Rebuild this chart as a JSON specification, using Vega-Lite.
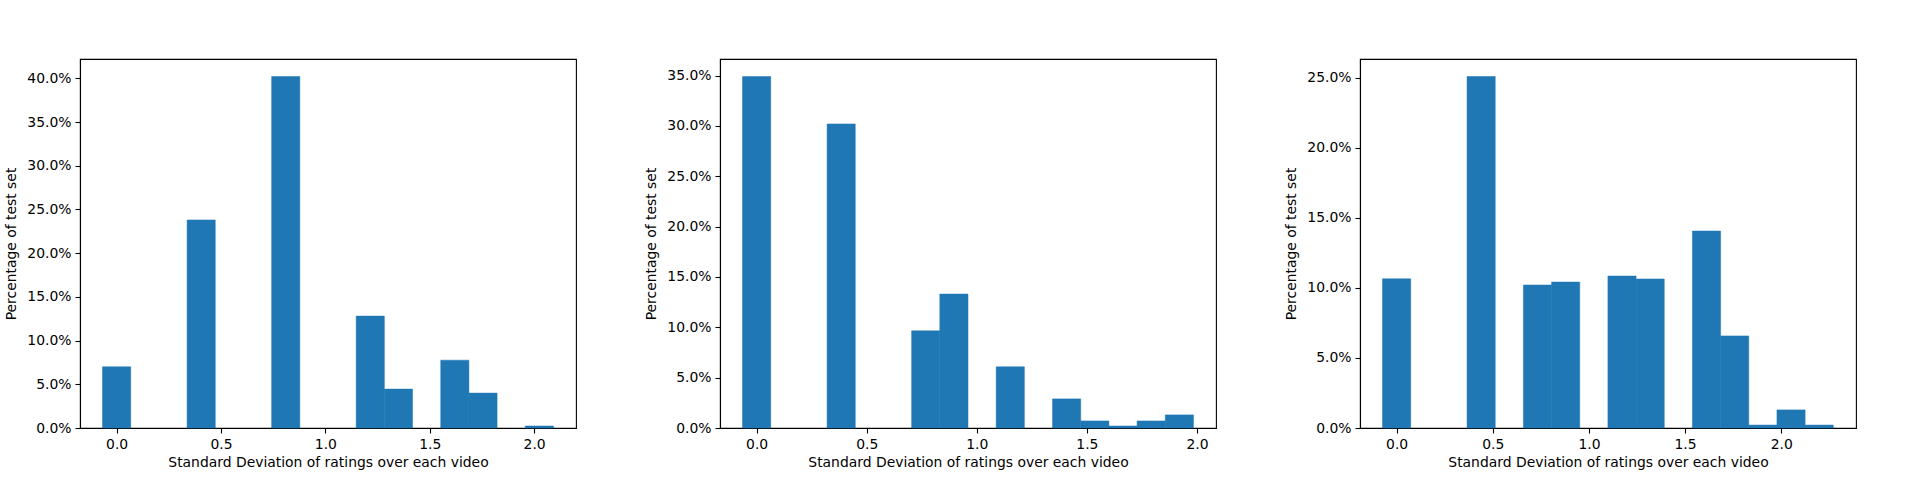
{
  "$schema": "https://vega.github.io/schema/vega-lite/v6.json",
  "background": "white",
  "padding": {"left": 4, "top": 58, "right": 5, "bottom": 5},
  "bounds": "flush",
  "spacing": 144,
  "datasets": {
    "p1": [
      {"bin_start": -0.0675, "bin_end": 0.0675, "pct": 0.0700},
      {"bin_start": 0.3375, "bin_end": 0.4725, "pct": 0.2380},
      {"bin_start": 0.7425, "bin_end": 0.8775, "pct": 0.4020},
      {"bin_start": 1.1475, "bin_end": 1.2825, "pct": 0.1280},
      {"bin_start": 1.2825, "bin_end": 1.4175, "pct": 0.0445},
      {"bin_start": 1.5525, "bin_end": 1.6875, "pct": 0.0776},
      {"bin_start": 1.6875, "bin_end": 1.8225, "pct": 0.0399},
      {"bin_start": 1.9575, "bin_end": 2.0925, "pct": 0.0023}
    ],
    "p2": [
      {"bin_start": -0.064, "bin_end": 0.064, "pct": 0.3490},
      {"bin_start": 0.320, "bin_end": 0.448, "pct": 0.3020},
      {"bin_start": 0.704, "bin_end": 0.832, "pct": 0.0965},
      {"bin_start": 0.832, "bin_end": 0.960, "pct": 0.1330},
      {"bin_start": 1.088, "bin_end": 1.216, "pct": 0.0608},
      {"bin_start": 1.344, "bin_end": 1.472, "pct": 0.0289},
      {"bin_start": 1.472, "bin_end": 1.600, "pct": 0.0070},
      {"bin_start": 1.600, "bin_end": 1.728, "pct": 0.0020},
      {"bin_start": 1.728, "bin_end": 1.856, "pct": 0.0070},
      {"bin_start": 1.856, "bin_end": 1.984, "pct": 0.0130}
    ],
    "p3": [
      {"bin_start": -0.07325, "bin_end": 0.07325, "pct": 0.1064},
      {"bin_start": 0.36625, "bin_end": 0.51275, "pct": 0.2507},
      {"bin_start": 0.65925, "bin_end": 0.80575, "pct": 0.1020},
      {"bin_start": 0.80575, "bin_end": 0.95225, "pct": 0.1041},
      {"bin_start": 1.09875, "bin_end": 1.24525, "pct": 0.1084},
      {"bin_start": 1.24525, "bin_end": 1.39175, "pct": 0.1063},
      {"bin_start": 1.53825, "bin_end": 1.68475, "pct": 0.1405},
      {"bin_start": 1.68475, "bin_end": 1.83125, "pct": 0.0657},
      {"bin_start": 1.83125, "bin_end": 1.97775, "pct": 0.0021},
      {"bin_start": 1.97775, "bin_end": 2.12425, "pct": 0.0129},
      {"bin_start": 2.12425, "bin_end": 2.27075, "pct": 0.0021}
    ]
  },
  "hconcat": [
    {
      "data": {"name": "p1"},
      "width": 496,
      "height": 369,
      "mark": {"type": "bar", "color": "#1f77b4", "stroke": "#1f77b4", "strokeWidth": 0.5},
      "encoding": {
        "x": {
          "field": "bin_start", "type": "quantitative",
          "scale": {"domain": [-0.1755, 2.2005], "nice": false, "zero": false},
          "axis": {"values": [0, 0.5, 1, 1.5, 2], "format": ".1f"},
          "title": "Standard Deviation of ratings over each video"
        },
        "x2": {"field": "bin_end"},
        "y": {
          "field": "pct", "type": "quantitative",
          "scale": {"domain": [0, 0.4221], "nice": false},
          "axis": {"values": [0, 0.05, 0.1, 0.15, 0.2, 0.25, 0.3, 0.35, 0.4], "format": ".1%"},
          "title": "Percentage of test set"
        },
        "y2": {"datum": 0}
      }
    },
    {
      "data": {"name": "p2"},
      "width": 496,
      "height": 369,
      "mark": {"type": "bar", "color": "#1f77b4", "stroke": "#1f77b4", "strokeWidth": 0.5},
      "encoding": {
        "x": {
          "field": "bin_start", "type": "quantitative",
          "scale": {"domain": [-0.1664, 2.0864], "nice": false, "zero": false},
          "axis": {"values": [0, 0.5, 1, 1.5, 2], "format": ".1f"},
          "title": "Standard Deviation of ratings over each video"
        },
        "x2": {"field": "bin_end"},
        "y": {
          "field": "pct", "type": "quantitative",
          "scale": {"domain": [0, 0.3665], "nice": false},
          "axis": {"values": [0, 0.05, 0.1, 0.15, 0.2, 0.25, 0.3, 0.35], "format": ".1%"},
          "title": "Percentage of test set"
        },
        "y2": {"datum": 0}
      }
    },
    {
      "data": {"name": "p3"},
      "width": 496,
      "height": 369,
      "mark": {"type": "bar", "color": "#1f77b4", "stroke": "#1f77b4", "strokeWidth": 0.5},
      "encoding": {
        "x": {
          "field": "bin_start", "type": "quantitative",
          "scale": {"domain": [-0.1905, 2.3889], "nice": false, "zero": false},
          "axis": {"values": [0, 0.5, 1, 1.5, 2], "format": ".1f"},
          "title": "Standard Deviation of ratings over each video"
        },
        "x2": {"field": "bin_end"},
        "y": {
          "field": "pct", "type": "quantitative",
          "scale": {"domain": [0, 0.2632], "nice": false},
          "axis": {"values": [0, 0.05, 0.1, 0.15, 0.2, 0.25], "format": ".1%"},
          "title": "Percentage of test set"
        },
        "y2": {"datum": 0}
      }
    }
  ],
  "config": {
    "font": "DejaVu Sans",
    "view": {"stroke": "black", "strokeWidth": 1.1},
    "axis": {
      "grid": false,
      "domainColor": "black",
      "domainWidth": 1.1,
      "tickColor": "black",
      "tickWidth": 1.1,
      "tickSize": 5,
      "labelPadding": 4,
      "labelColor": "black",
      "labelFont": "DejaVu Sans",
      "labelFontSize": 13.9,
      "labelFlush": false,
      "labelOverlap": false,
      "titleColor": "black",
      "titleFont": "DejaVu Sans",
      "titleFontSize": 13.9,
      "titleFontWeight": "normal"
    },
    "axisX": {"titlePadding": 5},
    "axisY": {"titlePadding": 8}
  }
}
